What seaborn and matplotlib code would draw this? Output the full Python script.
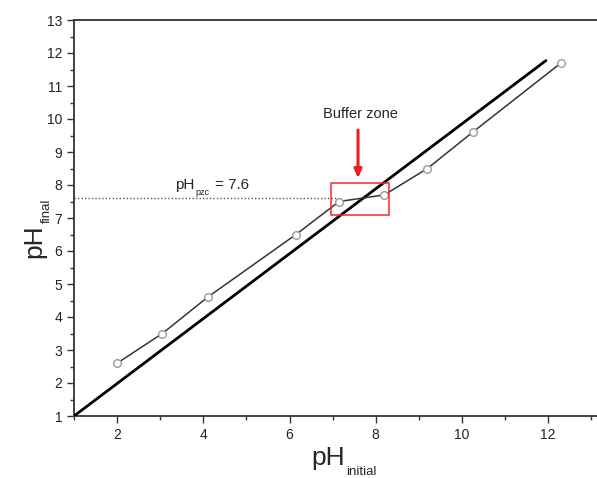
import matplotlib
matplotlib.use("Agg")
import matplotlib.pyplot as plt
from matplotlib.ticker import MultipleLocator, FixedLocator
from matplotlib.patches import Rectangle
import seaborn as sns
import pandas as pd

# data
ph_initial = [2.0, 3.05, 4.1, 6.15, 7.15, 8.2, 9.2, 10.25, 12.3]
ph_final = [2.6, 3.5, 4.6, 6.5, 7.5, 7.7, 8.5, 9.6, 11.7]
ref_x = [1.0, 11.95]
ref_y = [1.0, 11.77]
ph_pzc = 7.6
x_ticks = [2, 4, 6, 8, 10, 12]
y_ticks = list(range(1, 14))

sns.set_style("ticks")
plt.rcParams["font.family"] = ["Liberation Sans", "DejaVu Sans"]

W, H = 597, 478
fig = plt.figure(figsize=(W/100, H/100), dpi=100)
ax = fig.add_axes([74/W, 1-416/H, 1-74/W, (416-20)/H])

df = pd.DataFrame({"x": ph_initial, "y": ph_final})
ref = pd.DataFrame({"x": ref_x, "y": ref_y})

sns.lineplot(data=ref, x="x", y="y", ax=ax, color="black", linewidth=2.0, zorder=3)
sns.lineplot(data=df, x="x", y="y", ax=ax, color="#333333", linewidth=1.1,
             marker="o", markersize=5.5, markerfacecolor="white",
             markeredgecolor="#9a9a9a", markeredgewidth=1.0, zorder=4)
ax.set_xlabel("")
ax.set_ylabel("")

# pH_pzc dotted line
ax.plot([1.0, 7.1], [ph_pzc, ph_pzc], linestyle=(0, (1, 1.5)), color="#555555", linewidth=1.0, zorder=2)
ax.text(3.34, 7.88, "pH", fontsize=11, ha="left", va="baseline")
ax.annotate("pzc", xy=(3.34, 7.88), xycoords="data", xytext=(14.5, -4), textcoords="offset points",
            fontsize=6.5, ha="left", va="baseline")
ax.annotate("= 7.6", xy=(3.34, 7.88), xycoords="data", xytext=(29, 0), textcoords="offset points",
            fontsize=11, ha="left", va="baseline")

# buffer zone box and arrow
ax.add_patch(Rectangle((6.96, 7.09), 8.31-6.96, 8.05-7.09, fill=False,
                       edgecolor="#f02828", linewidth=1.1, zorder=5))
ax.annotate("", xy=(7.59, 8.12), xytext=(7.59, 9.75),
            arrowprops=dict(arrowstyle="-|>,head_length=0.5,head_width=0.22",
                            color="#e82020", lw=2.2), zorder=6)
ax.text(7.64, 10.15, "Buffer zone", fontsize=10.5, ha="center", va="center")

ax.set_xlim(1, 1 + (W-74)/43.1)
ax.set_ylim(1, 13)
ax.xaxis.set_major_locator(FixedLocator(x_ticks))
ax.xaxis.set_minor_locator(FixedLocator([1, 3, 5, 7, 9, 11, 13]))
ax.yaxis.set_major_locator(FixedLocator(y_ticks))
ax.yaxis.set_minor_locator(MultipleLocator(0.5))
ax.tick_params(which="major", direction="out", length=5, width=1.0, labelsize=10, color="#333333", labelcolor="#222222")
ax.tick_params(which="minor", direction="out", length=3, width=1.0, color="#333333")

for s in ["left", "bottom", "top"]:
    ax.spines[s].set_linewidth(1.3)
    ax.spines[s].set_color("#333333")
ax.spines["right"].set_visible(False)

# axis labels with small, low subscripts
fig.text(345/W, 1-465/H, "pH", fontsize=19, ha="right", va="baseline")
fig.text(346/W, 1-475/H, "initial", fontsize=9.5, ha="left", va="baseline")
fig.text(41/W, 1-224/H, "pH", fontsize=19, ha="right", va="baseline", rotation=90, rotation_mode="anchor")
fig.text(50/W, 1-223/H, "final", fontsize=9.5, ha="left", va="baseline", rotation=90, rotation_mode="anchor")

fig.savefig("out.png", dpi=100)
